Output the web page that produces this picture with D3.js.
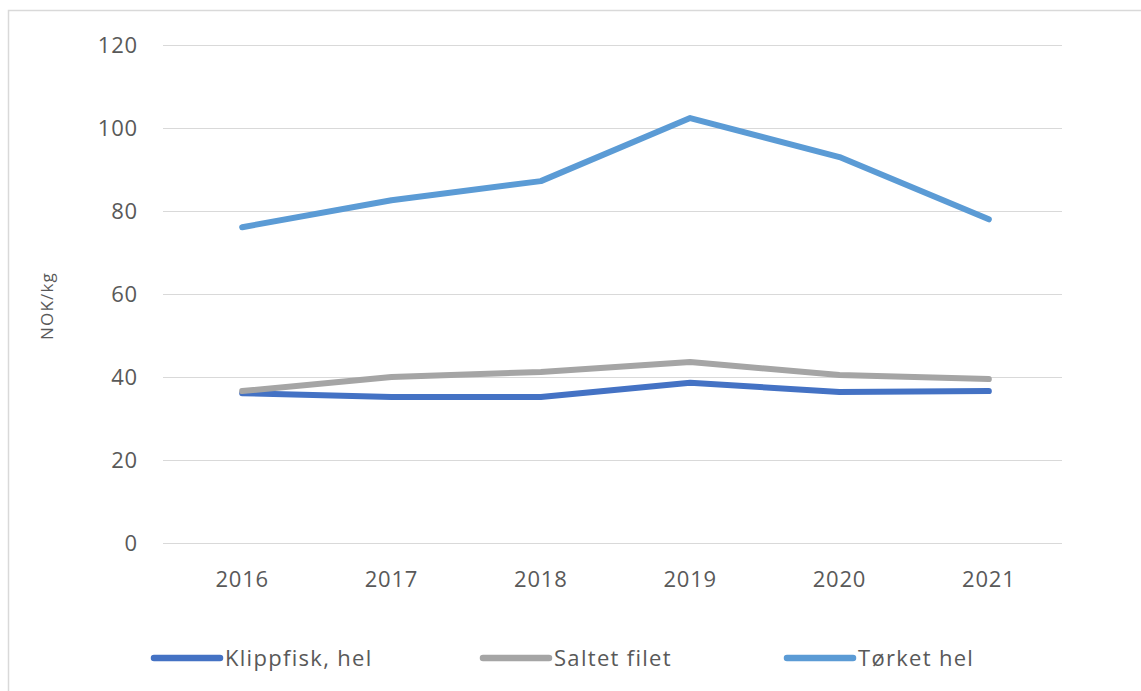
<!DOCTYPE html>
<html>
<head>
<meta charset="utf-8">
<script src="https://cdn.jsdelivr.net/npm/d3@7"></script>
<style>
  body { margin: 0; background: #fff; }
  svg { display: block; }
</style>
</head>
<body>
<svg id="chart" width="1141" height="691"></svg>
<script>
// data
const years = ["2016", "2017", "2018", "2019", "2020", "2021"];
const klippfisk = [36.1, 35.2, 35.2, 38.6, 36.4, 36.6];
const saltet = [36.6, 40.0, 41.2, 43.6, 40.5, 39.5];
const torket = [76.1, 82.6, 87.2, 102.4, 93.0, 78.0];
const yTicks = [0, 20, 40, 60, 80, 100, 120];

const series = [
  {name: "Klippfisk, hel", values: klippfisk, color: "#4472C4", lx: 154},
  {name: "Saltet filet", values: saltet, color: "#A5A5A5", lx: 483},
  {name: "Tørket hel", values: torket, color: "#5B9BD5", lx: 787}
];

const svg = d3.select("#chart");
const tickFont = "'Open Sans', 'DejaVu Sans', sans-serif";

// outer frame (runs off the right and bottom edge)
svg.append("rect")
  .attr("x", 8.5).attr("y", 10.5)
  .attr("width", 1200).attr("height", 800)
  .attr("fill", "none")
  .attr("stroke", "#d9d9d9")
  .attr("stroke-width", 1.5);

const x = d3.scalePoint()
  .domain(years)
  .range([167.5, 1063.5])
  .padding(0.5);

const y = d3.scaleLinear()
  .domain([0, 120])
  .range([543, 45]);

// gridlines
svg.append("g")
  .selectAll("line")
  .data(yTicks)
  .enter()
  .append("line")
  .attr("x1", 163).attr("x2", 1062)
  .attr("y1", d => y(d) + 0.5).attr("y2", d => y(d) + 0.5)
  .attr("stroke", "#d9d9d9")
  .attr("stroke-width", 1.2);

// y tick labels
svg.append("g")
  .selectAll("text")
  .data(yTicks)
  .enter()
  .append("text")
  .attr("x", 138)
  .attr("y", d => y(d))
  .attr("dy", "0.35em")
  .attr("text-anchor", "end")
  .style("font-family", tickFont)
  .style("font-size", "22px")
  .style("letter-spacing", "0.8px")
  .style("fill", "#595959")
  .text(d => d);

// x tick labels
svg.append("g")
  .selectAll("text")
  .data(years)
  .enter()
  .append("text")
  .attr("x", d => x(d))
  .attr("y", 579)
  .attr("dy", "0.35em")
  .attr("text-anchor", "middle")
  .style("font-family", tickFont)
  .style("font-size", "22px")
  .style("letter-spacing", "0.8px")
  .style("fill", "#595959")
  .text(d => d);

// axis title
svg.append("text")
  .attr("transform", "translate(47,306) rotate(-90)")
  .attr("text-anchor", "middle")
  .attr("dy", "0.35em")
  .style("font-family", tickFont)
  .style("font-size", "17px")
  .style("letter-spacing", "1.2px")
  .style("fill", "#595959")
  .text("NOK/kg");

// lines
const line = d3.line()
  .x((d, i) => x(years[i]))
  .y(d => y(d));

svg.append("g")
  .selectAll("path")
  .data(series)
  .enter()
  .append("path")
  .attr("d", d => line(d.values))
  .attr("fill", "none")
  .attr("stroke", d => d.color)
  .attr("stroke-width", 6)
  .attr("stroke-linecap", "round")
  .attr("stroke-linejoin", "round");

// legend
const legend = svg.append("g")
  .selectAll("g")
  .data(series)
  .enter()
  .append("g")
  .attr("transform", d => "translate(" + d.lx + ",658)");

legend.append("line")
  .attr("x1", 0).attr("x2", 66)
  .attr("y1", 0).attr("y2", 0)
  .attr("stroke", d => d.color)
  .attr("stroke-width", 6.5)
  .attr("stroke-linecap", "round");

legend.append("text")
  .attr("x", 71)
  .attr("y", 0)
  .attr("dy", "0.35em")
  .style("font-family", tickFont)
  .style("font-size", "22px")
  .style("letter-spacing", "1.3px")
  .style("fill", "#595959")
  .text(d => d.name);
</script>
</body>
</html>
